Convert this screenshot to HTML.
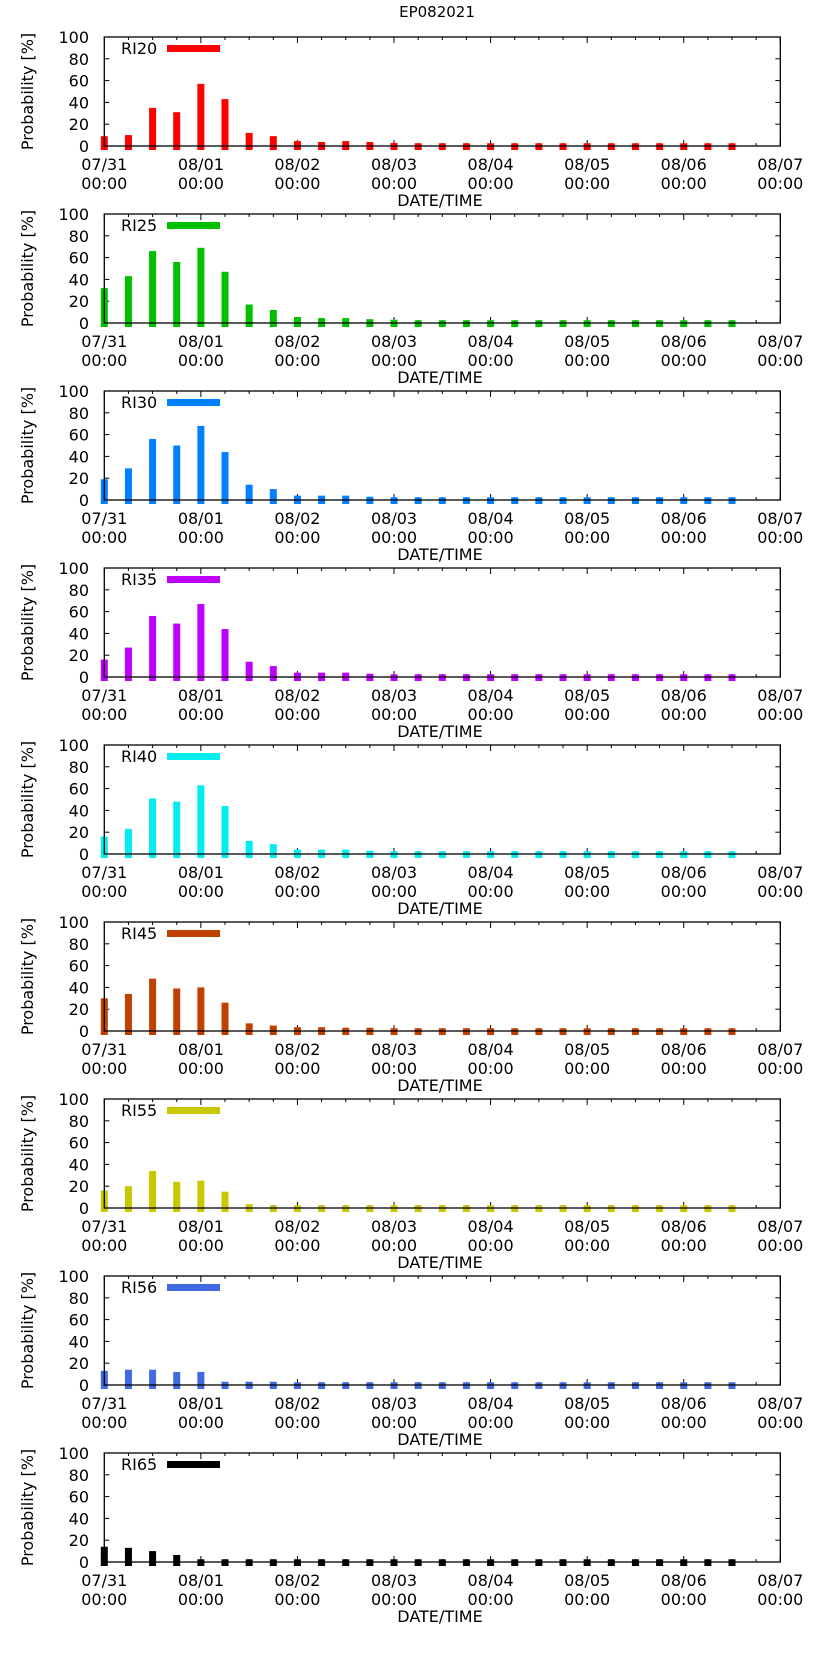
<!DOCTYPE html>
<html><head><meta charset="utf-8"><style>
html,body{margin:0;padding:0;background:#fff;}
svg{display:block;font-family:"DejaVu Sans","Liberation Sans",sans-serif;}
</style></head><body>
<svg id="chart" width="822" height="1653" viewBox="0 0 822 1653" xmlns="http://www.w3.org/2000/svg">
<rect width="822" height="1653" fill="#fff"/>
<text x="437" y="17" font-size="15" text-anchor="middle">EP082021</text>
</svg>
<script>
const seriesNames = ["RI20","RI25","RI30","RI35","RI40","RI45","RI55","RI56","RI65"];
const seriesColors = ["#ff0000","#00c000","#0080ff","#c000ff","#00eeee","#c04000","#c8c800","#4169e1","#000000"];
const ri20 = [9,10,35,31,57,43,12,9,4.5,3.7,4.5,3.7,2.8,2.5,2.5,2.5,2.5,2.5,2.5,2.5,2.5,2.5,2.5,2.5,2.5,2.5,2.5];
const ri25 = [32,43,66,56,69,47,17,12,5.5,4.5,4.5,3.5,3,2.5,2.5,2.5,2.5,2.5,2.5,2.5,2.5,2.5,2.5,2.5,2.5,2.5,2.5];
const ri30 = [19,29,56,50,68,44,14,10,4,4,4,3,2.5,2.5,2.5,2.5,2.5,2.5,2.5,2.5,2.5,2.5,2.5,2.5,2.5,2.5,2.5];
const ri35 = [16,27,56,49,67,44,14,10,4,4,4,3,2.5,2.5,2.5,2.5,2.5,2.5,2.5,2.5,2.5,2.5,2.5,2.5,2.5,2.5,2.5];
const ri40 = [16,23,51,48,63,44,12,9,4,4,4,3,2.5,2.5,2.5,2.5,2.5,2.5,2.5,2.5,2.5,2.5,2.5,2.5,2.5,2.5,2.5];
const ri45 = [30,34,48,39,40,26,7,5,3.5,3.5,3,3,2.5,2.5,2.5,2.5,2.5,2.5,2.5,2.5,2.5,2.5,2.5,2.5,2.5,2.5,2.5];
const ri55 = [16,20,34,24,25,15,3.5,2.5,2.5,2.5,2.5,2.5,2.5,2.5,2.5,2.5,2.5,2.5,2.5,2.5,2.5,2.5,2.5,2.5,2.5,2.5,2.5];
const ri56 = [13,14,14,12,12,3,3,3,2.5,2.5,2.5,2.5,2.5,2.5,2.5,2.5,2.5,2.5,2.5,2.5,2.5,2.5,2.5,2.5,2.5,2.5,2.5];
const ri65 = [14,13,10,6.5,2.5,2.5,2.5,2.5,2.5,2.5,2.5,2.5,2.5,2.5,2.5,2.5,2.5,2.5,2.5,2.5,2.5,2.5,2.5,2.5,2.5,2.5,2.5];
const allSeries = [ri20,ri25,ri30,ri35,ri40,ri45,ri55,ri56,ri65];
const dayLabels = ["07/31","08/01","08/02","08/03","08/04","08/05","08/06","08/07"];
const yTicks = [0,20,40,60,80,100];
const hoursPerBar = 6;

const NS = "http://www.w3.org/2000/svg";
const svg = document.getElementById("chart");
const L = 104.3, R = 780.3, H = 109, firstBottom = 146, step = 177;
function mk(tag, attrs, parent){ const e=document.createElementNS(NS,tag); for(const k in attrs) e.setAttribute(k,attrs[k]); (parent||svg).appendChild(e); return e; }
function xScale(hours){ return L + (R-L)*hours/(7*24); }

allSeries.forEach((vals, p) => {
  const bottom = firstBottom + p*step, top = bottom - H;
  const yScale = v => bottom - H*v/100;
  const g = mk("g", {});
  
  
  // y ticks
  yTicks.forEach(t => {
    const y = yScale(t);
    mk("line", {x1: L, x2: L+5, y1: y, y2: y, stroke: "#000"}, g);
    mk("line", {x1: R, x2: R-5, y1: y, y2: y, stroke: "#000"}, g);
    const tl = mk("text", {x: 89, y: y+6, "font-size": 16, "text-anchor": "end"}, g);
    tl.textContent = t;
    
    
  });
  // x ticks
  for (let h = 0; h <= 168; h += 6) {
    const x = xScale(h), len = (h % 24 === 0) ? 6 : 3;
    mk("line", {x1: x, x2: x, y1: bottom, y2: bottom-len, stroke: "#000"}, g);
    mk("line", {x1: x, x2: x, y1: top, y2: top+len, stroke: "#000"}, g);
  }
  // bars
  vals.forEach((v, i) => {
    const cx = xScale(i*hoursPerBar);
    const r = mk("rect", {x: cx-3.5, y: yScale(v), width: 7, height: bottom + 4 - yScale(v), fill: seriesColors[p]}, g);
    
    
  });
  // frame
  const fr = mk("rect", {x: L, y: top, width: R-L, height: H, fill: "none", stroke: "#000", "stroke-width": 1.3}, g);
  
  
  dayLabels.forEach((d, i) => {
    const x = xScale(i*24);
    const t1 = mk("text", {x: x, y: bottom+24, "font-size": 16, "text-anchor": "middle"}, g);
    t1.textContent = d;
    
    
    const t2 = mk("text", {x: x, y: bottom+43, "font-size": 16, "text-anchor": "middle"}, g);
    t2.textContent = "00:00";
    
    
  });
  const xt = mk("text", {x: 440, y: bottom+60, "font-size": 16, "text-anchor": "middle"}, g);
  xt.textContent = "DATE/TIME";
  
  
  const yt = mk("text", {x: 0, y: 0, "font-size": 16, "text-anchor": "middle", transform: `translate(33,${(top+bottom)/2}) rotate(-90)`}, g);
  yt.textContent = "Probability [%]";
  
  
  // legend
  const lt = mk("text", {x: 121, y: top+17, "font-size": 16}, g);
  lt.textContent = seriesNames[p];
  
  
  const ll = mk("rect", {x: 167, y: top+8, width: 53, height: 7, fill: seriesColors[p]}, g);
  
  
});
</script>
</body></html>
